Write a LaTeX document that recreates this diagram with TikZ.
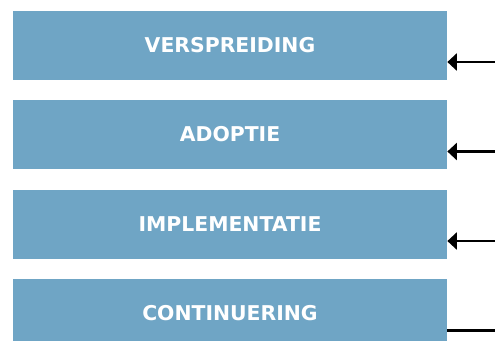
\documentclass[tikz,border=0pt]{standalone}
\usepackage{fontspec}
\setsansfont{DejaVu Sans}
\usepackage{tikz}
\usetikzlibrary{positioning,arrows.meta}
\definecolor{stageblue}{RGB}{111,165,197}
\tikzset{
  flowarrow/.style={-{Triangle[length=1.9mm, width=3.4mm]}, line width=1.4pt},
  flowline/.style={line width=1.4pt},
  stagebox/.style={fill=stageblue, text=white, inner sep=0pt, minimum width=8.68cm, minimum height=1.38cm, align=center,
    font=\sffamily\bfseries\fontsize{11.6}{13}\selectfont}
}

\begin{document}
\begin{tikzpicture}
      \useasboundingbox (0,0) rectangle (9.9,-6.8);
      \clip (0,0) rectangle (9.9,-6.8);
      \node[stagebox] (spread) at (4.6,-0.91) {VERSPREIDING};
      \node[stagebox] (adopt) at (4.6,-2.69) {ADOPTIE};
      \node[stagebox] (impl) at (4.6,-4.49) {IMPLEMENTATIE};
      \node[stagebox] (cont) at (4.6,-6.27) {CONTINUERING};
      % inputs coming in from the right
      \coordinate (in1) at (9.9,-1.24);
      \coordinate (in2) at (9.9,-3.03);
      \coordinate (in3) at (9.9,-4.82);
      \coordinate (in4) at (9.9,-6.61);
      \draw[flowarrow] (in1) -- (in1 -| spread.east);
      \draw[flowarrow] (in2) -- (in2 -| adopt.east);
      \draw[flowarrow] (in3) -- (in3 -| impl.east);
      \draw[flowline] (in4) -- (in4 -| cont.east);
    \end{tikzpicture}
\end{document}
